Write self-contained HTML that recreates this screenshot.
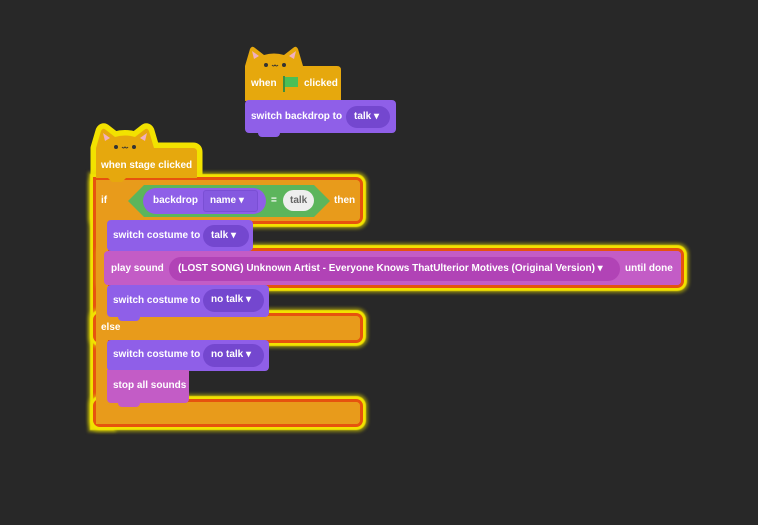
<!DOCTYPE html>
<html><head><meta charset="utf-8"><style>
body{margin:0;width:758px;height:525px;background:#282828;position:relative;overflow:hidden;font-family:"Liberation Sans",sans-serif;}
div,svg{position:absolute;box-sizing:border-box}
.t{color:#fff;font-size:10px;font-weight:bold;white-space:nowrap;line-height:1}
.g{box-shadow:0 0 0 3px #e6530e,0 0 1px 6px #f2e200,0 0 3px 8px rgba(230,220,0,.5)}
.o{background:#e89b1b}
.p{background:#8f5fe8;border-radius:4px}
.dd{background:#7447cf;border-radius:12px;color:#fff;font-size:10px;font-weight:bold;line-height:22px;padding-left:8px;white-space:nowrap}
</style></head><body>

<!-- top script -->
<svg style="left:245px;top:44px" width="100" height="60">
<path d="M0,57 L0,22 L5,5 Q7,1 10,4 L19,11 Q29,8 39,11 L48,4 Q51,1 53,5 L58,22 L92,22 Q96,22 96,26 L96,57 Z" fill="#e6a80d"/>
<polygon points="7,7 9,15 14,12" fill="#f0b0c0"/><polygon points="51,7 49,15 44,12" fill="#f0b0c0"/>
<circle cx="21" cy="21" r="2" fill="#333"/><circle cx="39" cy="21" r="2" fill="#333"/>
<path d="M27,21 q1.5,2 3,0 q1.5,2 3,0" stroke="#333" fill="none" stroke-width="1"/>
</svg>
<div class="t" style="left:251px;top:79px">when</div>
<div style="left:283px;top:76px;width:2px;height:16px;background:#3f8f3f"></div>
<div style="left:285px;top:77px;width:13px;height:10px;background:#4cbf56"></div>
<div class="t" style="left:304px;top:79px">clicked</div>
<div class="p" style="left:245px;top:100px;width:151px;height:33px"></div>
<div style="left:258px;top:132px;width:22px;height:5px;background:#8f5fe8;border-radius:0 0 4px 4px"></div>
<div class="t" style="left:251px;top:112px">switch backdrop to</div>
<div class="dd" style="left:346px;top:106px;width:44px;height:22px">talk ▾</div>

<!-- glow layer -->
<svg style="left:86px;top:116px" width="125" height="75">
<path d="M10,62 L10,32 L15,15 Q17,11 20,14 L29,21 Q39,18 49,21 L58,14 Q61,11 63,15 L68,32 L107,32 Q111,32 111,36 L111,62 Z" fill="#f2e200" stroke="#f2e200" stroke-width="11" stroke-linejoin="round"/>
</svg>
<div class="g o" style="left:96px;top:180px;width:264px;height:41px;border-radius:4px"></div>
<div class="g o" style="left:96px;top:180px;width:12px;height:244px"></div>
<div class="g o" style="left:96px;top:316px;width:264px;height:24px;border-radius:4px"></div>
<div class="g o" style="left:96px;top:402px;width:264px;height:22px;border-radius:4px"></div>
<div class="g" style="left:104px;top:251px;width:577px;height:34px;border-radius:4px;background:#c35cc6"></div>

<!-- fill layer -->
<div class="o" style="left:96px;top:180px;width:264px;height:41px;border-radius:4px"></div>
<div class="o" style="left:96px;top:180px;width:12px;height:244px"></div>
<div class="o" style="left:96px;top:316px;width:264px;height:24px;border-radius:4px"></div>
<div class="o" style="left:96px;top:402px;width:264px;height:22px;border-radius:4px"></div>
<svg style="left:96px;top:126px" width="105" height="60">
<path d="M0,52 L0,22 L5,5 Q7,1 10,4 L19,11 Q29,8 39,11 L48,4 Q51,1 53,5 L58,22 L97,22 Q101,22 101,26 L101,52 L30,52 L26,56 L16,56 L12,52 Z" fill="#e6a80d"/>
<polygon points="7,7 9,15 14,12" fill="#f0b0c0"/><polygon points="51,7 49,15 44,12" fill="#f0b0c0"/>
<circle cx="20" cy="21" r="2" fill="#333"/><circle cx="38" cy="21" r="2" fill="#333"/>
<path d="M26,21 q1.5,2 3,0 q1.5,2 3,0" stroke="#333" fill="none" stroke-width="1"/>
</svg>
<div class="t" style="left:101px;top:161px">when stage clicked</div>
<div class="t" style="left:101px;top:196px">if</div>
<div class="t" style="left:101px;top:323px">else</div>
<svg style="left:128px;top:185px" width="202" height="32"><polygon points="16,0 186,0 202,16 186,32 16,32 0,16" fill="#5cb55c"/></svg>
<div style="left:143px;top:188px;width:123px;height:26px;background:#8f5fe8;border-radius:13px"></div>
<div class="t" style="left:153px;top:196px">backdrop</div>
<div style="left:203px;top:190px;width:55px;height:22px;background:#8559e0;border:1px solid #7a4fd4;border-radius:3px"></div>
<div class="t" style="left:210px;top:196px">name ▾</div>
<div class="t" style="left:271px;top:196px">=</div>
<div style="left:283px;top:190px;width:31px;height:21px;background:#eee;border-radius:11px"></div>
<div class="t" style="left:290px;top:196px;color:#666">talk</div>
<div class="t" style="left:334px;top:196px">then</div>

<div class="p" style="left:107px;top:220px;width:146px;height:31px"></div>
<div class="t" style="left:113px;top:231px">switch costume to</div>
<div class="dd" style="left:203px;top:225px;width:46px;height:22px">talk ▾</div>

<div style="left:104px;top:251px;width:577px;height:34px;border-radius:4px;background:#c35cc6"></div>
<div class="t" style="left:111px;top:264px">play sound</div>
<div style="left:169px;top:257px;width:451px;height:24px;background:#b143b6;border-radius:12px"></div>
<div class="t" style="left:178px;top:264px">(LOST SONG) Unknown Artist - Everyone Knows ThatUlterior Motives (Original Version) ▾</div>
<div class="t" style="left:625px;top:264px">until done</div>

<div class="p" style="left:107px;top:285px;width:162px;height:32px"></div>
<div style="left:118px;top:316px;width:22px;height:5px;background:#8f5fe8;border-radius:0 0 4px 4px"></div>
<div class="t" style="left:113px;top:296px">switch costume to</div>
<div class="dd" style="left:203px;top:289px;width:61px;height:23px">no talk ▾</div>

<div class="p" style="left:107px;top:340px;width:162px;height:31px"></div>
<div class="t" style="left:113px;top:350px">switch costume to</div>
<div class="dd" style="left:203px;top:344px;width:61px;height:23px">no talk ▾</div>

<div style="left:107px;top:370px;width:82px;height:33px;background:#c35cc6;border-radius:0 0 4px 4px"></div>
<div style="left:118px;top:402px;width:22px;height:5px;background:#c35cc6;border-radius:0 0 4px 4px"></div>
<div class="t" style="left:113px;top:381px">stop all sounds</div>
</body></html>
